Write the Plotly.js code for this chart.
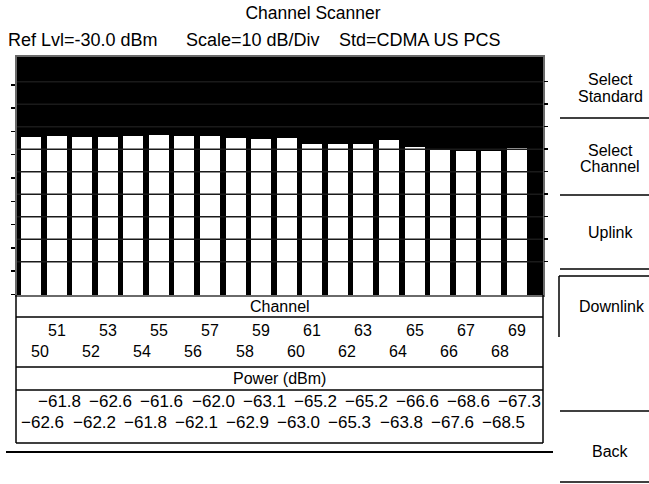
<!DOCTYPE html>
<html>
<head>
<meta charset="utf-8">
<script src="https://cdn.plot.ly/plotly-3.0.1.min.js"></script>
<style>
  html, body { margin: 0; padding: 0; background: #ffffff; }
  #chart { width: 649px; height: 484px; }
</style>
</head>
<body>
<div id="chart"></div>
<script>
// ---- data ----
const channels = [50, 51, 52, 53, 54, 55, 56, 57, 58, 59, 60, 61, 62, 63, 64, 65, 66, 67, 68, 69];
const powerDbm = [-62.6, -61.8, -62.2, -62.6, -61.8, -61.6, -62.1, -62.0, -62.9, -63.1,
                  -63.0, -65.2, -65.3, -65.2, -63.8, -66.6, -67.6, -68.6, -68.5, -67.3];
const chartTitle = 'Channel Scanner';
const headerItems = ['Ref Lvl=-30.0 dBm', 'Scale=10 dB/Div', 'Std=CDMA US PCS'];
const tableHeaders = ['Channel', 'Power (dBm)'];
const softKeys = [['Select', 'Standard'], ['Select', 'Channel'], ['Uplink'], ['Downlink'], ['Back']];
const refLevel = -30;      // dBm, top reference
const dbPerDiv = 10;

// ---- layout geometry (pixels) ----
const W = 649, H = 484;
const L = 17, R = 106, T = 57, B = 189;
const PW = W - L - R, PH = H - T - B;
const plotBottom = T + PH;
const xp = px => (px - L) / PW;
const yp = py => (plotBottom - py) / PH;

// y (dB) axis scale
const pxPerDb = 2.33;
const refPx = 61.5;
const yTop = refLevel + (refPx - T) / pxPerDb;
const yBottom = refLevel - (plotBottom - refPx) / pxPerDb;

// x range: categories with a half slot on the left and a full slot on the right
const xMin = channels[0] - 0.547;
const xMax = channels[channels.length - 1] + 1.02;

// right-hand graticule (drawn over the bars)
const gridDivPx = 22.5, firstGridPx = 81.7;
const y2Top = 9 + (firstGridPx - T) / gridDivPx;
const y2Bottom = y2Top - PH / gridDivPx;
const gridLevels = [1, 2, 3, 4, 5, 6, 7, 8, 9];

const leftTicks = [];
for (let v = refLevel - dbPerDiv; v >= yBottom - 0.5; v -= dbPerDiv) leftTicks.push(Math.max(v, yBottom + 0.3));

const fmt = v => v.toFixed(1).replace('-', '\u2212');
const font = 'Liberation Sans, Arial, Helvetica, sans-serif';

const traces = [{
  type: 'bar',
  x: channels,
  y: powerDbm.map(v => v - yBottom),
  base: yBottom,
  width: 0.78,
  marker: { color: '#ffffff', line: { width: 0 } },
  hoverinfo: 'skip'
}, {
  type: 'scatter', x: [channels[0]], y: [1], yaxis: 'y2',
  mode: 'markers', marker: { opacity: 0 }, hoverinfo: 'skip', showlegend: false
}];

const shapes = [];
// graticule lines over the bars
gridLevels.forEach(g => shapes.push({
  type: 'line', xref: 'paper', yref: 'y2', x0: 0, x1: 1, y0: g, y1: g,
  line: { color: '#1a1a1a', width: 1.5 }, layer: 'above'
}));
const hline = (x0, x1, py, w) => shapes.push({
  type: 'line', xref: 'paper', yref: 'paper', x0: xp(x0), x1: xp(x1), y0: yp(py), y1: yp(py),
  line: { color: '#000000', width: w || 1.5 }
});
const vline = (px, y0, y1, w) => shapes.push({
  type: 'line', xref: 'paper', yref: 'paper', x0: xp(px), x1: xp(px), y0: yp(y0), y1: yp(y1),
  line: { color: '#000000', width: w || 1.5 }
});
// table under the plot
vline(16, 295, 443);
vline(543, 295, 443);
hline(16, 543, 317);
hline(16, 543, 367);
hline(16, 543, 390);
hline(16, 543, 443);
hline(6, 553, 452, 2);
// soft-key separators
hline(560, 649, 118);
hline(560, 649, 195);
hline(560, 649, 269);
hline(559, 649, 276);
vline(559, 276, 337);
hline(560, 649, 411);
hline(560, 649, 482);

const annotations = [];
const txt = (text, px, py, size, anchor, extra) => annotations.push(Object.assign({
  text, xref: 'paper', yref: 'paper', x: xp(px), y: yp(py),
  xanchor: anchor || 'center', yanchor: 'middle', showarrow: false,
  font: { family: font, size: size, color: '#000000' }
}, extra || {}));

// header line
txt(headerItems[0], 6, 40, 18, 'left');
txt(headerItems[1], 184, 40, 18, 'left');
txt(headerItems[2], 337, 40, 18, 'left');
// table headings
txt(tableHeaders[0], 279.5, 306, 16);
txt(tableHeaders[1], 279.5, 378, 16);
// channel numbers and power values, tied to the bars' x positions
channels.forEach((ch, i) => {
  const odd = ch % 2 === 1;
  annotations.push({
    text: String(ch), xref: 'x', yref: 'paper', x: ch, y: yp(odd ? 330 : 351),
    xanchor: 'center', yanchor: 'middle', xshift: odd ? 0 : 9, showarrow: false,
    font: { family: font, size: 16, color: '#000000' }
  });
  annotations.push({
    text: fmt(powerDbm[i]), xref: 'x', yref: 'paper', x: ch, y: yp(odd ? 401 : 423),
    xanchor: 'center', yanchor: 'middle', xshift: odd ? 3 : 12, showarrow: false,
    font: { family: font, size: 17, color: '#000000' }
  });
});
// soft keys
txt(softKeys[0][0], 610, 79, 16);
txt(softKeys[0][1], 610, 96, 16);
txt(softKeys[1][0], 610, 150, 16);
txt(softKeys[1][1], 610, 166, 16);
txt(softKeys[2][0], 610, 232, 16);
txt(softKeys[3][0], 612, 306, 16);
txt(softKeys[4][0], 610, 451, 16);

const layout = {
  width: W, height: H,
  margin: { l: L, r: R, t: T, b: B, pad: 0 },
  paper_bgcolor: '#ffffff',
  plot_bgcolor: '#000000',
  showlegend: false,
  bargap: 0,
  title: {
    text: chartTitle, xref: 'container', yref: 'container',
    x: 313 / W, y: 1 - 13 / H, xanchor: 'center', yanchor: 'middle',
    font: { family: font, size: 17.5, color: '#000000' }
  },
  xaxis: {
    range: [xMin, xMax], showticklabels: false, ticks: '', showgrid: false, zeroline: false,
    showline: true, mirror: true, linecolor: '#6a6a6a', linewidth: 2, fixedrange: true
  },
  yaxis: {
    range: [yBottom, yTop], tickmode: 'array', tickvals: leftTicks, ticks: 'outside',
    ticklen: 4, tickwidth: 1.5, tickcolor: '#000000', showticklabels: false,
    showgrid: false, zeroline: false, showline: true, mirror: true,
    linecolor: '#6a6a6a', linewidth: 2, fixedrange: true
  },
  yaxis2: {
    overlaying: 'y', side: 'right', range: [y2Bottom, y2Top], tickmode: 'array',
    tickvals: gridLevels, ticks: 'outside', ticklen: 4, tickwidth: 1.5, tickcolor: '#000000',
    showticklabels: false, showgrid: false, zeroline: false, showline: false, fixedrange: true
  },
  shapes: shapes,
  annotations: annotations
};

Plotly.newPlot('chart', traces, layout, { displayModeBar: false, staticPlot: true });
</script>
</body>
</html>
